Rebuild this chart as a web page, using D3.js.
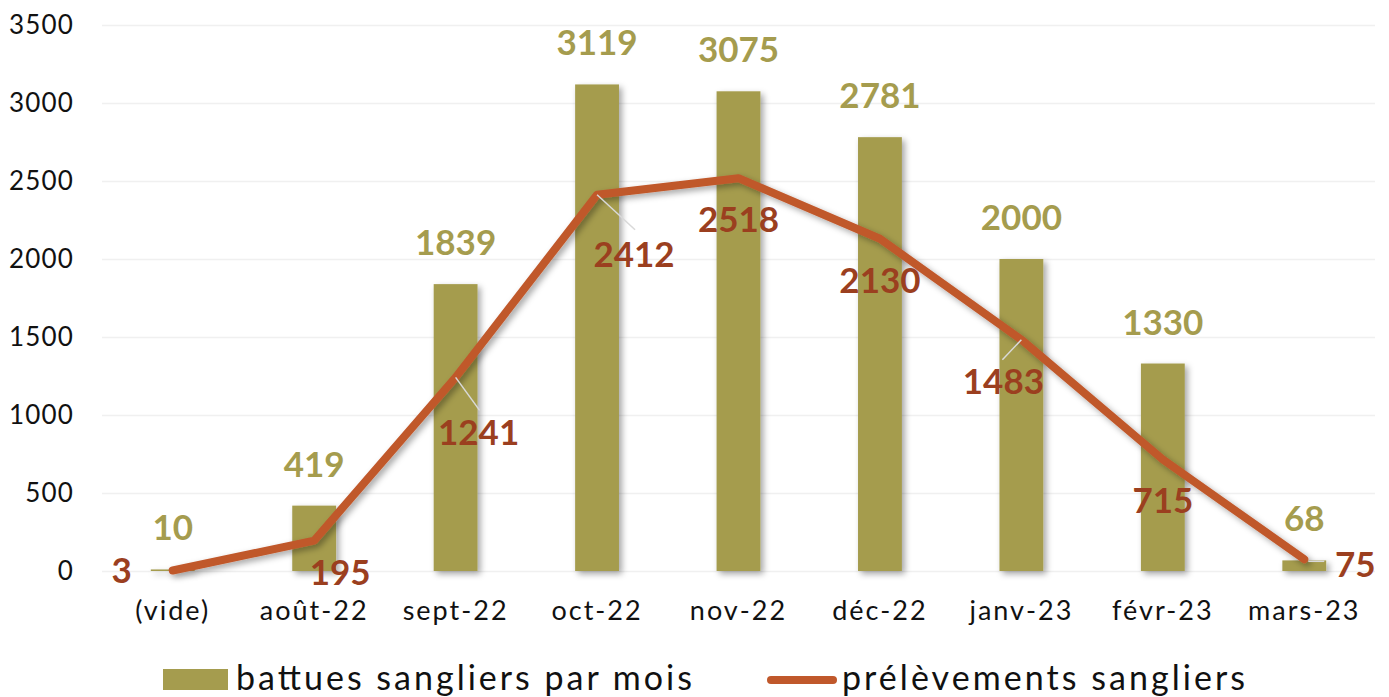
<!DOCTYPE html>
<html>
<head>
<meta charset="utf-8">
<script src="https://cdn.jsdelivr.net/npm/d3@7"></script>
<style>
  body { margin: 0; background: #fff; }
  svg { display: block; font-family: "Century Gothic", "Lato", sans-serif; }
</style>
</head>
<body>
<svg id="chart"></svg>
<script>
// data
const categories = ['(vide)', 'août-22', 'sept-22', 'oct-22', 'nov-22', 'déc-22', 'janv-23', 'févr-23', 'mars-23'];
const battues = [10, 419, 1839, 3119, 3075, 2781, 2000, 1330, 68];
const prelevements = [3, 195, 1241, 2412, 2518, 2130, 1483, 715, 75];
const yTicks = [0, 500, 1000, 1500, 2000, 2500, 3000, 3500];
const seriesNames = ['battues sangliers par mois', 'prélèvements sangliers'];

// label offsets for the line series (moved by hand in the original)
const lineLabelOffsets = [[-51, 12], [26, 44], [23, 68], [37, 72], [0, 54], [0, 54], [-18, 54], [0, 54], [51, 18]];
const leaders = [null, null, [[0, 0], [24, 33]], [[0, 0], [38, 35]], null, null, [[0, 0], [-19, 20]], null, [[4, 2], [20, 2]]];

const width = 1389, height = 697;
const margin = {top: 25, right: 14, bottom: 126, left: 102};

const svg = d3.select('#chart')
  .attr('width', width)
  .attr('height', height);

const defs = svg.append('defs');
const shadow = defs.append('filter')
  .attr('id', 'shadow')
  .attr('x', '-20%').attr('y', '-20%')
  .attr('width', '140%').attr('height', '140%');
shadow.append('feDropShadow')
  .attr('dx', 3).attr('dy', 3)
  .attr('stdDeviation', 3)
  .attr('flood-color', '#000')
  .attr('flood-opacity', 0.35);

const x = d3.scaleBand()
  .domain(categories)
  .range([margin.left, width - margin.right])
  .padding(0);

const y = d3.scaleLinear()
  .domain([0, 3500])
  .range([height - margin.bottom, margin.top]);

const barColor = '#a59c4e';
const lineColor = '#c0582b';
const lineLabelColor = '#9b3f1f';

// gridlines + y labels
const yAxis = svg.append('g')
  .attr('transform', `translate(${margin.left},0)`)
  .call(d3.axisLeft(y).tickValues(yTicks).tickFormat(d3.format('d'))
    .tickSize(-(width - margin.left - margin.right)).tickPadding(28));
yAxis.select('.domain').remove();
yAxis.selectAll('line').attr('stroke', '#f0f0f0').attr('stroke-width', 1.5);
yAxis.selectAll('text')
  .attr('fill', '#111')
  .style('font-size', '26px')
  .style('letter-spacing', '1.2px')
  .style('font-family', '"Century Gothic", Lato, sans-serif');

// x labels
const xAxis = svg.append('g')
  .attr('transform', `translate(0,${height - margin.bottom})`)
  .call(d3.axisBottom(x).tickSize(0).tickPadding(49));
xAxis.select('.domain').remove();
xAxis.selectAll('text')
  .attr('fill', '#111')
  .attr('dy', 0)
  .style('font-size', '27px')
  .style('letter-spacing', '2px')
  .style('font-family', '"Century Gothic", Lato, sans-serif');

// bars
const barW = x.bandwidth() * 0.31;
const cx = c => x(c) + x.bandwidth() / 2;

svg.append('g')
  .attr('filter', 'url(#shadow)')
  .selectAll('rect')
  .data(battues)
  .enter()
  .append('rect')
    .attr('x', (d, i) => cx(categories[i]) - barW / 2)
    .attr('y', d => y(d))
    .attr('width', barW)
    .attr('height', d => y(0) - y(d))
    .attr('fill', barColor);

svg.append('g')
  .selectAll('text')
  .data(battues)
  .enter()
  .append('text')
    .attr('x', (d, i) => cx(categories[i]))
    .attr('y', d => y(d) - 29)
    .attr('text-anchor', 'middle')
    .attr('fill', barColor)
    .style('font-size', '35px')
    .style('font-weight', 700)
    .text(d => d);

// line
const line = d3.line()
  .x((d, i) => cx(categories[i]))
  .y(d => y(d));

svg.append('path')
  .datum(prelevements)
  .attr('d', line)
  .attr('fill', 'none')
  .attr('stroke', lineColor)
  .attr('stroke-width', 8)
  .attr('stroke-linejoin', 'round')
  .attr('stroke-linecap', 'round')
  .attr('filter', 'url(#shadow)');

// leader lines
svg.append('g')
  .selectAll('line')
  .data(prelevements.map((d, i) => ({d, i})).filter(o => leaders[o.i]))
  .enter()
  .append('line')
    .attr('x1', o => cx(categories[o.i]) + leaders[o.i][0][0])
    .attr('y1', o => y(o.d) + leaders[o.i][0][1])
    .attr('x2', o => cx(categories[o.i]) + leaders[o.i][1][0])
    .attr('y2', o => y(o.d) + leaders[o.i][1][1])
    .attr('stroke', '#d9d9d9')
    .attr('stroke-width', 1.5);

svg.append('g')
  .selectAll('text')
  .data(prelevements)
  .enter()
  .append('text')
    .attr('x', (d, i) => cx(categories[i]) + lineLabelOffsets[i][0])
    .attr('y', (d, i) => y(d) + lineLabelOffsets[i][1])
    .attr('text-anchor', 'middle')
    .attr('fill', lineLabelColor)
    .style('font-size', '35px')
    .style('font-weight', 700)
    .text(d => d);

// legend
const legend = svg.append('g');
legend.append('rect')
  .attr('x', 163).attr('y', 669)
  .attr('width', 65).attr('height', 21)
  .attr('fill', barColor);
legend.append('text')
  .attr('x', 236).attr('y', 690)
  .attr('fill', '#111')
  .attr('textLength', 456)
  .attr('lengthAdjust', 'spacing')
  .style('font-size', '34px')
  .text(seriesNames[0]);
legend.append('line')
  .attr('x1', 771).attr('x2', 833)
  .attr('y1', 680).attr('y2', 680)
  .attr('stroke', lineColor)
  .attr('stroke-width', 8)
  .attr('stroke-linecap', 'round');
legend.append('text')
  .attr('x', 842).attr('y', 690)
  .attr('fill', '#111')
  .attr('textLength', 403)
  .attr('lengthAdjust', 'spacing')
  .style('font-size', '34px')
  .text(seriesNames[1]);
</script>
</body>
</html>
